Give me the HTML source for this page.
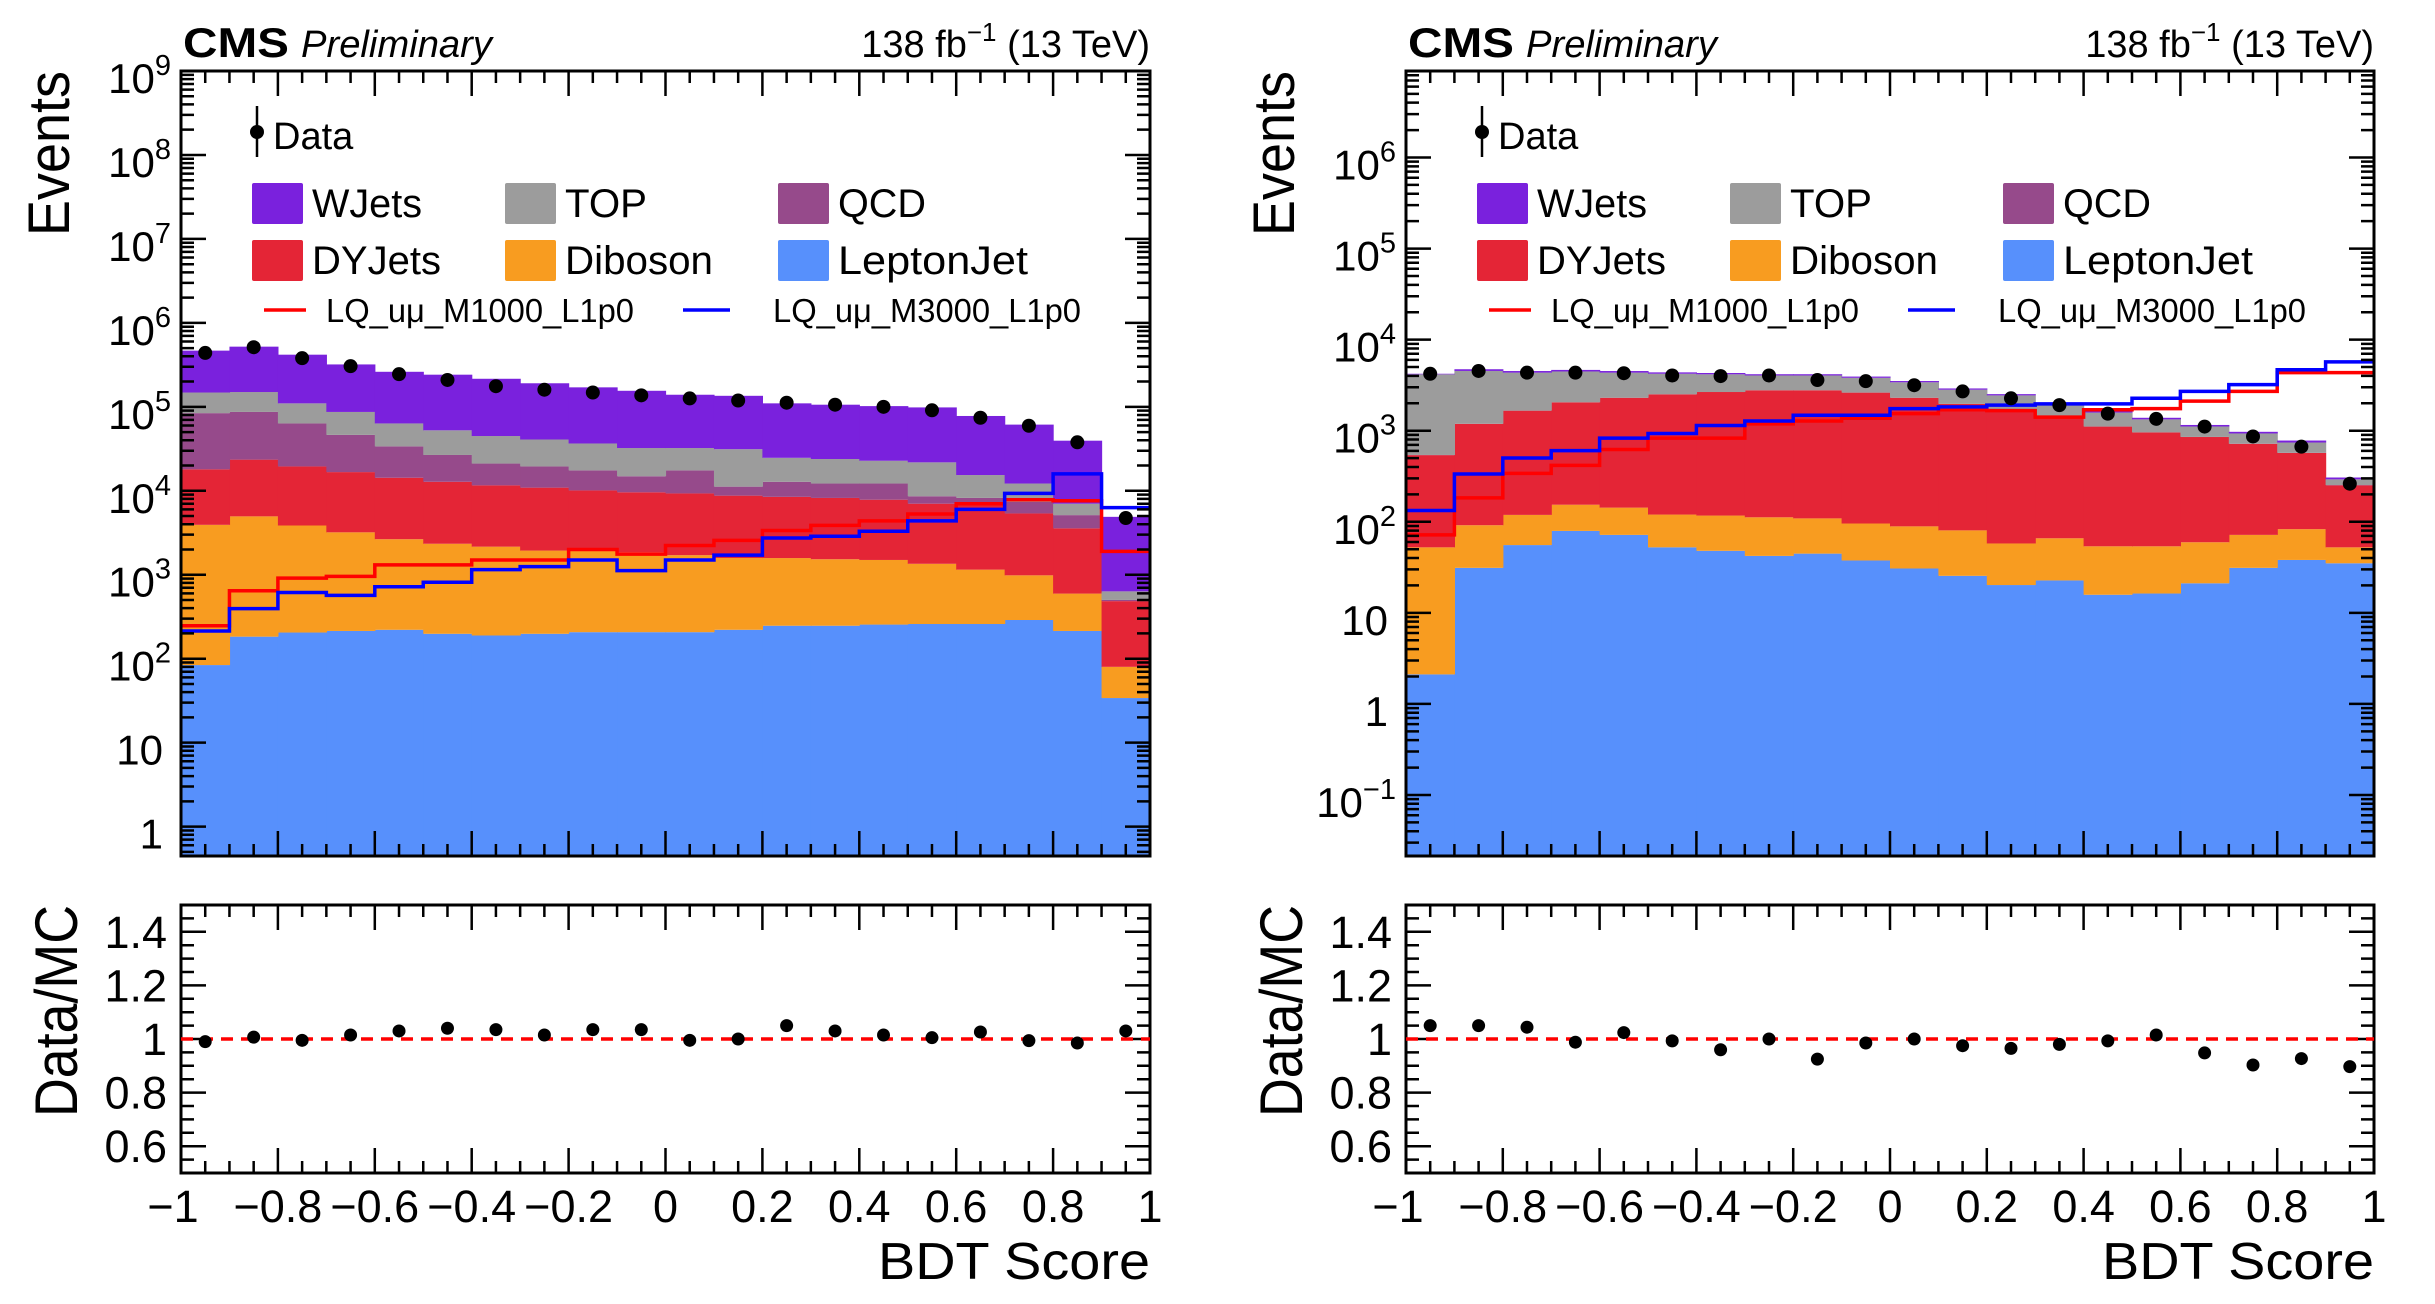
<!DOCTYPE html>
<html><head><meta charset="utf-8"><style>
html,body{margin:0;padding:0;background:#fff;}
svg{display:block;font-family:"Liberation Sans",sans-serif;}
</style></head><body>
<svg id="fig" width="2435" height="1304" viewBox="0 0 2435 1304" xmlns="http://www.w3.org/2000/svg">
<defs>
<clipPath id="clipL"><rect x="181" y="71" width="969" height="785"/></clipPath>
<clipPath id="clipR"><rect x="1406" y="71" width="968" height="785"/></clipPath>
</defs>
</svg>
<script>
// ---- data (bins of BDT score, -1..1, width 0.1) ----
const binEdges = [-1,-0.9,-0.8,-0.7,-0.6,-0.5,-0.4,-0.3,-0.2,-0.1,0,0.1,0.2,0.3,0.4,0.5,0.6,0.7,0.8,0.9,1];
const xTickLabels = ["\u22121","\u22120.8","\u22120.6","\u22120.4","\u22120.2","0","0.2","0.4","0.6","0.8","1"];
const ratioTickLabels = ["0.6","0.8","1","1.2","1.4"];

// left panel
const leftLeptonJet = [84,183,205,214,221,198,189,198,207,207,207,221,247,247,255,259,259,289,214,34];
const leftDiboson = [3846,4777,3655,2986,2429,2142,1971,1742,1733,1643,1503,1359,1333,1283,1245,1091,891,695,382,46];
const leftDYJets = [14070,18540,15640,13500,11650,10460,9440,8960,8160,7750,7590,7170,6890,6690,6330,5670,5660,4386,2974,405];
const leftQCD = [66100,63400,43900,29600,19500,13900,9500,8600,7400,5300,8200,2450,4330,3980,4370,1590,1410,1990,1560,16];
const leftTOP = [63900,63100,46600,40600,29600,25800,23800,21300,19100,17400,14800,20100,11900,11700,10600,13200,7180,4840,1890,133];
const leftWJets = [319000,371000,308000,233000,198000,189000,171000,150000,134000,123000,107000,104000,85300,82100,79200,76600,62400,49200,32500,4260];
const leftData = [439000,513000,380000,305000,245000,209000,176000,160000,148000,137000,126000,119000,112000,106000,100000,91000,74100,59500,37800,4740];
const leftSigM1000 = [247,644,910,955,1310,1310,1500,1500,2000,1760,2230,2570,3360,3870,4380,5290,7020,7830,7600,1900];
const leftSigM3000 = [214,395,614,568,719,815,1150,1250,1500,1120,1500,1710,2740,2870,3300,4380,6000,9300,15900,6300];
const leftRatio = [0.99,1.007,0.995,1.015,1.03,1.04,1.035,1.015,1.035,1.035,0.995,1.0,1.05,1.03,1.015,1.005,1.026,0.994,0.985,1.03];
const leftRatioErr = [0.005,0.005,0.005,0.005,0.005,0.005,0.005,0.005,0.005,0.005,0.005,0.02,0.005,0.005,0.005,0.005,0.005,0.005,0.005,0.01];
const leftYTickExp = [0,1,2,3,4,5,6,7,8,9];

// right panel
const rightLeptonJet = [2.11,31.2,55.5,79.4,71.8,52.4,48.0,42.2,44.7,37.6,30.7,25.5,20.2,22.7,15.8,16.3,21.1,31.2,38.1,35.0];
const rightDiboson = [50.3,60.5,63.5,74.6,71.2,67.6,69,69.8,64.3,58.1,58.4,55,37.6,43.2,38,37.5,38.5,40.6,44.9,17.4];
const rightDYJets = [487,1098,1541,1896,2157,2390,2543,2668,2671,2524,2211,1889,1602,1304,1056,903,793,646,487,199];
const rightQCD = [2,2,2,2,2,2,2,2,2,2,2,2,2,2,2,2,2,2,2,2];
const rightTOP = [3620,3340,2680,2420,2040,1710,1500,1260,1260,1190,1100,850,780,540,470,373,257,213,170,39];
const rightWJets = [60,200,180,180,180,150,140,130,130,120,110,90,80,70,60,55,45,40,38,14];
const rightData = [4220,4530,4340,4340,4280,4040,3980,4040,3600,3500,3160,2700,2270,1910,1540,1350,1110,865,668,262];
const rightSigM1000 = [71.8,183,340,416,622,830,830,1190,1280,1370,1540,1700,1660,1410,1700,1750,2110,2700,4340,4340];
const rightSigM3000 = [133,335,501,604,830,931,1140,1280,1480,1480,1750,1830,1910,1970,1970,2270,2700,3210,4670,5700];
const rightRatio = [1.05,1.05,1.044,0.988,1.024,0.993,0.96,1.0,0.925,0.985,1.0,0.975,0.965,0.98,0.993,1.015,0.948,0.903,0.927,0.897];
const rightRatioErr = [0.005,0.005,0.005,0.02,0.005,0.005,0.005,0.005,0.005,0.005,0.005,0.005,0.005,0.005,0.005,0.005,0.005,0.005,0.005,0.02];
const rightYTickExp = [-1,0,1,2,3,4,5,6];

const colors = {LeptonJet:"#5790fc",Diboson:"#f89c20",DYJets:"#e42536",QCD:"#964a8b",TOP:"#9c9c9c",WJets:"#7a21dd"};
const NS = "http://www.w3.org/2000/svg";
const svg = document.getElementById('fig');

function mk(tag, attrs, parent) {
  const e = document.createElementNS(NS, tag);
  for (const k in attrs) e.setAttribute(k, attrs[k]);
  (parent || svg).appendChild(e);
  return e;
}

function drawPanel(P) {
  const g = mk('g', {});
  
  
  const X0 = P.x0, X1 = P.x1, T = 71, B = 856, RT = 905, RB = 1173;
  const xs = v => X0 + (v + 1) / 2 * (X1 - X0);
  const ys = v => B - (Math.log10(v) - P.lmin) / (P.lmax - P.lmin) * (B - T);
  const yr = v => RB - (v - 0.5) * (RB - RT);

  const plot = mk('g', {'clip-path': 'url(#' + P.clip + ')'}, g);
  
  
  const order = ['LeptonJet','Diboson','DYJets','QCD','TOP','WJets'];
  const cum = new Array(20).fill(0);
  order.forEach(comp => {
    const arr = P.stack[comp];
    const cg = mk('g', {}, plot);
    
    
    for (let i = 0; i < 20; i++) {
      const lo = cum[i];
      const hi = cum[i] + arr[i];
      const ylo = lo > 0 ? ys(lo) : B + 5;
      const yhi = ys(hi);
      const xa = xs(binEdges[i]), xb = xs(binEdges[i + 1]);
      const r = mk('rect', {x: xa.toFixed(2), y: yhi.toFixed(2), width: (xb - xa + 0.6).toFixed(2), height: Math.max(0, ylo - yhi).toFixed(2), fill: colors[comp]}, cg);
      
      
      cum[i] = hi;
    }
  });
  [[P.sigA, '#ff0000', 'signal-m1000-line'], [P.sigB, '#0000ff', 'signal-m3000-line']].forEach(([arr, col, nm]) => {
    let d = '';
    for (let i = 0; i < 20; i++) {
      const xa = xs(binEdges[i]), xb = xs(binEdges[i + 1]), y = ys(arr[i]);
      d += (i === 0 ? 'M' : 'L') + xa.toFixed(2) + ',' + y.toFixed(2) + 'L' + xb.toFixed(2) + ',' + y.toFixed(2);
    }
    const p = mk('path', {d: d, fill: 'none', stroke: col, 'stroke-width': 3.5}, plot);
    
    
  });
  for (let i = 0; i < 20; i++) {
    const cx = xs((binEdges[i] + binEdges[i + 1]) / 2);
    const c = mk('circle', {cx: cx.toFixed(2), cy: ys(P.data[i]).toFixed(2), r: 7, fill: '#000'}, plot);
    
    
  }
  const f1 = mk('rect', {x: X0, y: T, width: X1 - X0, height: B - T, fill: 'none', stroke: '#000', 'stroke-width': 3}, g);
  
  
  const f2 = mk('rect', {x: X0, y: RT, width: X1 - X0, height: RB - RT, fill: 'none', stroke: '#000', 'stroke-width': 3}, g);
  
  

  let td = '';
  for (let k = 0; k <= 40; k++) {
    const v = -1 + k * 0.05;
    const x = xs(v);
    const major = k % 4 === 0;
    const L = major ? 25 : 12;
    if (k === 0 || k === 40) continue;
    td += `M${x},${T}v${L}M${x},${B}v${-L}M${x},${RT}v${L}M${x},${RB}v${-L}`;
  }
  for (let e = Math.floor(P.lmin); e <= Math.ceil(P.lmax); e++) {
    for (let m = 1; m <= 9; m++) {
      const v = m * Math.pow(10, e);
      const lv = Math.log10(v);
      if (lv < P.lmin || lv > P.lmax) continue;
      const y = ys(v);
      const L = m === 1 ? 25 : 13;
      td += `M${X0},${y}h${L}M${X1},${y}h${-L}`;
    }
  }
  for (let k = 1; k < 20; k++) {
    const v = 0.5 + k * 0.05;
    const y = yr(v);
    const L = (k % 4 === 2) ? 25 : 13;
    td += `M${X0},${y}h${L}M${X1},${y}h${-L}`;
  }
  const tp = mk('path', {d: td, stroke: '#000', 'stroke-width': 2.5, fill: 'none'}, g);
  
  

  P.yexp.forEach(e => {
    const y = ys(Math.pow(10, e)) + 22;
    const t = mk('text', {x: X0 - 10, y: y, 'font-size': 42, 'text-anchor': 'end'}, g);
    
    
    if (e === 0) { t.textContent = '1'; t.setAttribute('x', X0 - 18); }
    else if (e === 1) { t.textContent = '10'; t.setAttribute('x', X0 - 18); }
    else {
      const a = mk('tspan', {}, t); a.textContent = '10';
      const s = mk('tspan', {dy: -18, 'font-size': 29}, t); s.textContent = e < 0 ? '\u2212' + (-e) : String(e);
    }
  });
  ratioTickLabels.forEach(lbl => {
    const t = mk('text', {x: X0 - 14, y: yr(parseFloat(lbl)) + 16, 'font-size': 45, 'text-anchor': 'end'}, g);
    
    
    t.textContent = lbl;
  });
  xTickLabels.forEach((lbl, k) => {
    const v = -1 + k * 0.2;
    const t = mk('text', {x: xs(v) + (k === 0 ? -8 : 0), y: 1222, 'font-size': 45, 'text-anchor': 'middle'}, g);
    
    
    t.textContent = lbl;
  });
  const rl = mk('line', {x1: X0, x2: X1, y1: yr(1), y2: yr(1), stroke: '#ff0000', 'stroke-width': 3.5, 'stroke-dasharray': '12,8'}, g);
  
  
  for (let i = 0; i < 20; i++) {
    const cx = xs((binEdges[i] + binEdges[i + 1]) / 2);
    const cy = yr(P.ratio[i]);
    const el = mk('line', {x1: cx, x2: cx, y1: yr(P.ratio[i] + P.rerr[i]), y2: yr(P.ratio[i] - P.rerr[i]), stroke: '#000', 'stroke-width': 2.5}, g);
    
    
    const c = mk('circle', {cx: cx, cy: cy, r: 6.5, fill: '#000'}, g);
    
    
  }

  const ev = mk('text', {x: 0, y: 0, 'font-size': 58, 'text-anchor': 'end', transform: `translate(${X0 - 112},${T}) rotate(-90)`, textLength: 165, lengthAdjust: 'spacingAndGlyphs'}, g);
  
  
  ev.textContent = 'Events';
  const dm = mk('text', {x: 0, y: 0, 'font-size': 60, 'text-anchor': 'end', transform: `translate(${X0 - 104},${RT}) rotate(-90)`, textLength: 212, lengthAdjust: 'spacingAndGlyphs'}, g);
  
  
  dm.textContent = 'Data/MC';
  const bt = mk('text', {x: X1, y: 1279, 'font-size': 52, 'text-anchor': 'end', textLength: 272, lengthAdjust: 'spacingAndGlyphs'}, g);
  
  
  bt.textContent = 'BDT Score';

  const cms = mk('text', {x: X0 + 2, y: 57, 'font-size': 42, 'font-weight': 'bold', textLength: 106, lengthAdjust: 'spacingAndGlyphs'}, g);
  
  
  cms.textContent = 'CMS';
  const pre = mk('text', {x: X0 + 120, y: 57, 'font-size': 38, 'font-style': 'italic', textLength: 191, lengthAdjust: 'spacingAndGlyphs'}, g);
  
  
  pre.textContent = 'Preliminary';
  const lum = mk('text', {x: X1, y: 57, 'font-size': 38, 'text-anchor': 'end'}, g);
  
  
  const l1 = mk('tspan', {}, lum); l1.textContent = '138 fb';
  const l2 = mk('tspan', {dy: -16, 'font-size': 26}, lum); l2.textContent = '\u22121';
  const l3 = mk('tspan', {dy: 16}, lum); l3.textContent = ' (13 TeV)';

  const lg = mk('g', {}, g);
  
  
  const ox = X0 - 181;
  const dl = mk('line', {x1: ox + 257, x2: ox + 257, y1: 106, y2: 157, stroke: '#000', 'stroke-width': 2.5}, lg);
  
  
  const dc = mk('circle', {cx: ox + 257, cy: 132, r: 7, fill: '#000'}, lg);
  
  
  const dt = mk('text', {x: ox + 273, y: 149, 'font-size': 38}, lg);
  
  
  dt.textContent = 'Data';
  const entries = [
    ['WJets', 252, 183, 110], ['TOP', 505, 183, 82], ['QCD', 778, 183, 88],
    ['DYJets', 252, 240, 129], ['Diboson', 505, 240, 148], ['LeptonJet', 778, 240, 190]
  ];
  entries.forEach(([nm, bx, by, w]) => {
    const r = mk('rect', {x: ox + bx, y: by, width: 51, height: 41, rx: 2, fill: colors[nm]}, lg);
    
    
    const t = mk('text', {x: ox + bx + 60, y: by + 34, 'font-size': 40, textLength: w, lengthAdjust: 'spacingAndGlyphs'}, lg);
    
    
    t.textContent = nm;
  });
  [['#ff0000', 264, 306, 326, 'LQ_u\u03bc_M1000_L1p0'], ['#0000ff', 683, 730, 773, 'LQ_u\u03bc_M3000_L1p0']].forEach(([col, a, b, tx, lbl]) => {
    const l = mk('line', {x1: ox + a, x2: ox + b, y1: 310, y2: 310, stroke: col, 'stroke-width': 3.5}, lg);
    
    
    const t = mk('text', {x: ox + tx, y: 322, 'font-size': 33, textLength: 308, lengthAdjust: 'spacingAndGlyphs'}, lg);
    
    
    t.textContent = lbl;
  });
}

drawPanel({name: 'left-panel', x0: 181, x1: 1150, clip: 'clipL', lmin: -0.35, lmax: 9,
  stack: {LeptonJet: leftLeptonJet, Diboson: leftDiboson, DYJets: leftDYJets, QCD: leftQCD, TOP: leftTOP, WJets: leftWJets},
  data: leftData, sigA: leftSigM1000, sigB: leftSigM3000, ratio: leftRatio, rerr: leftRatioErr, yexp: leftYTickExp});
drawPanel({name: 'right-panel', x0: 1406, x1: 2374, clip: 'clipR', lmin: -1.67, lmax: 6.95,
  stack: {LeptonJet: rightLeptonJet, Diboson: rightDiboson, DYJets: rightDYJets, QCD: rightQCD, TOP: rightTOP, WJets: rightWJets},
  data: rightData, sigA: rightSigM1000, sigB: rightSigM3000, ratio: rightRatio, rerr: rightRatioErr, yexp: rightYTickExp});
</script>
</body></html>
